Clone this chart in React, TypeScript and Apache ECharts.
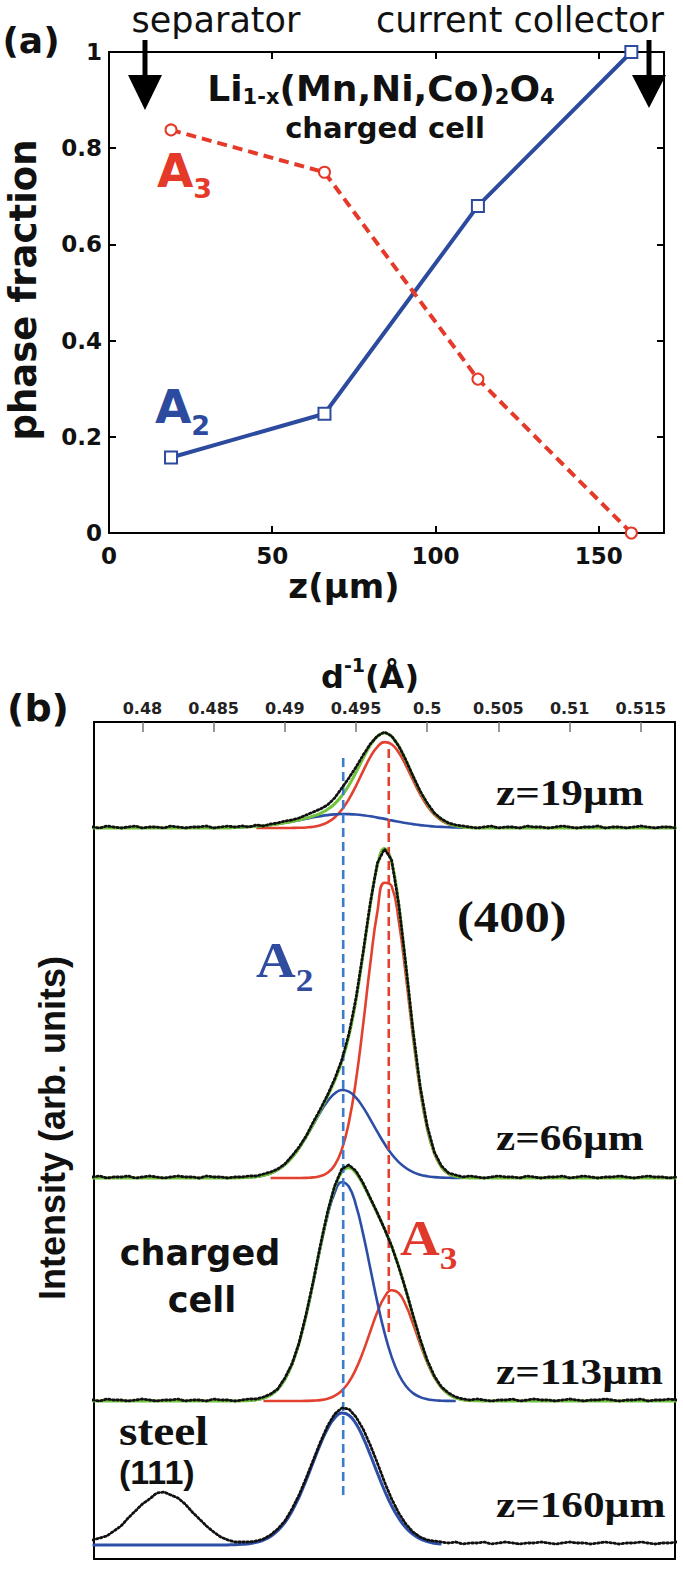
import React, { useEffect, useRef } from "react";
import * as echarts from "echarts";

// ---------- panel (a): phase fraction vs depth ----------
const depthZ = [19, 66, 113, 160];
const fractionA2 = [0.157, 0.248, 0.68, 1.0];
const fractionA3 = [0.838, 0.75, 0.32, 0.0];

// ---------- panel (b): diffraction scans (d^-1 grid) ----------
const scanStart = 0.4765;
const scanStep = 0.0005;
const dTicks = [0.48, 0.485, 0.49, 0.495, 0.5, 0.505, 0.51, 0.515];

const scanZ19 = [
  1, 0, 2, 1, 0, 1, 2, 0, 1, 1, 0, 2, 1, 0, 1, 1, 2, 0, 1, 2,
  1, 2, 1, 3, 2, 4, 5, 7, 8, 10, 13, 16, 19, 23, 30, 40, 50, 61, 73, 84, 92, 96, 92, 82, 68, 52, 37, 25, 15, 9, 5, 3, 2,
  1, 0, 1, 2, 0, 1, 1, 0, 2, 1, 1, 0, 1, 2, 1, 0, 1, 1, 2, 0, 1, 1, 0, 1, 2, 1, 0, 1, 1, 0,
];
const scanZ66 = [
  1, 2, 0, 1, 1, 2, 0, 1, 2, 1, 0, 1, 2, 1, 1, 0, 2, 1, 1, 0, 1,
  1, 2, 2, 4, 6, 9, 14, 22, 31, 42, 56, 69, 83, 99, 118, 144, 180, 226, 275, 315, 329, 318, 274, 213, 148, 92, 52, 26, 12, 5, 3, 1,
  2, 1, 0, 1, 2, 1, 1, 0, 2, 1, 0, 1, 1, 2, 0, 1, 2, 1, 0, 1, 1, 2, 1, 0, 1, 2, 1, 1, 0, 1,
];
const scanZ113 = [
  1, 0, 2, 1, 1, 0, 1, 2, 1, 0, 1, 1, 2, 0, 1, 1, 0, 2, 1, 1, 0,
  1, 2, 2, 4, 7, 12, 23, 37, 58, 87, 120, 156, 189, 215, 232, 236, 230, 218, 203, 188, 172, 155, 134, 111, 86, 62, 41, 25, 14, 8, 4, 2, 1,
  2, 1, 0, 1, 1, 2, 0, 1, 2, 1, 1, 0, 1, 2, 1, 0, 1, 1, 2, 1, 0, 1, 1, 2, 0, 1, 1, 2, 1,
];
const scanZ160 = [
  5, 7, 9, 14, 19, 27, 34, 41, 46, 52, 53, 50, 47, 41, 33, 26, 19, 13, 8, 5,
  3, 3, 3, 4, 6, 10, 16, 24, 36, 50, 67, 85, 103, 119, 131, 137, 136, 128, 116, 100,
  82, 63, 46, 32, 21, 13, 8, 5, 4, 3,
  2, 3, 1, 2, 2, 3, 1, 2, 3, 2, 1, 2, 2, 3, 2, 1, 2, 3, 2, 2, 1, 2, 3, 2, 1, 2, 2, 3, 2, 1, 2, 2, 3,
];

// fitted components (A3 = red, A2 = blue), each starting at the given d^-1
const fitA3z19Start = 0.488;
const fitA3z19 = [0, 0, 0, 0, 0.03, 0.08, 0.21, 0.55, 1.29, 2.83, 5.7, 10.6, 18.2, 28.9, 42.2, 56.9, 70.8, 81.2, 85.9, 83.8, 75.4, 62.7, 48.0, 33.9, 22.1, 13.3, 7.4, 3.8, 1.8, 0.8, 0.3];
const fitA2z19Start = 0.4865;
const fitA2z19 = [0.5, 0.8, 1.2, 1.7, 2.3, 3.1, 4.1, 5.3, 6.5, 7.9, 9.3, 10.7, 11.9, 12.9, 13.6, 14.0, 13.9, 13.5, 12.7, 11.7, 10.4, 9.1, 7.6, 6.3, 5.0, 3.9, 2.9, 2.2, 1.5, 1.1, 0.7, 0.5, 0.3];
const fitA3z66Start = 0.489;
const fitA3z66 = [0, 0, 0, 0.01, 0.04, 0.17, 0.6, 1.9, 5.2, 12.8, 28.3, 55.8, 97.9, 153.4, 214.0, 266.3, 295.3, 291.9, 257.2, 202.1, 141.5, 88.3, 49.2, 24.4, 10.8, 4.2, 1.5, 0.5, 0.1];
const fitA2z66Start = 0.487;
const fitA2z66 = [0.3, 0.7, 1.3, 2.6, 4.7, 8.2, 13.3, 20.5, 29.9, 41.2, 53.6, 66.0, 76.8, 84.5, 88.0, 86.4, 80.3, 70.6, 58.7, 46.1, 34.2, 24.0, 15.9, 10.0, 5.9, 3.3, 1.8, 0.9, 0.4, 0.2, 0.1, 0];
const fitA3z113Start = 0.4885;
const fitA3z113 = [0, 0, 0, 0, 0.01, 0.04, 0.12, 0.35, 0.9, 2.3, 5.1, 10.3, 19.0, 32.1, 49.4, 69.4, 88.9, 103.9, 110.8, 107.8, 95.7, 77.4, 57.2, 38.5, 23.7, 13.3, 6.8, 3.2, 1.3, 0.5, 0.2, 0.1];
const fitA2z113Start = 0.487;
const fitA2z113 = [0.2, 0.5, 1.3, 2.8, 6.0, 11.7, 21.4, 36.4, 57.9, 85.9, 118.9, 153.6, 185.2, 208.3, 218.7, 214.2, 195.7, 166.9, 132.8, 98.6, 68.3, 44.2, 26.6, 15.0, 7.9, 3.9, 1.8, 0.8, 0.3, 0.1, 0];
const fitA2z160Start = 0.4765;
const fitA2z160 = [
  0, 0, 0, 0, 0, 0, 0, 0, 0, 0, 0, 0, 0, 0, 0, 0, 0, 0, 0,
  0.1, 0.3, 0.7, 1.3, 2.6, 4.9, 8.6, 14.3, 22.5, 33.8, 48.0, 64.8, 83.0, 100.8, 116.2, 127.1, 131.9, 129.8, 121.2, 107.4, 90.3, 72.0, 54.5, 39.1, 26.7, 17.2, 10.6, 6.1, 3.4, 1.8, 0.9,
];

// peak positions marked by dashed lines, and their vertical extent
const peakA2 = 0.4941;
const peakA3 = 0.4973;
const peakA2Span = [64, 804];
const peakA3Span = [227, 814];

// vertical offsets of the stacked scans (panel b value units)
const stackOffsets = [731, 381, 158, 14];

const BLUE = "#2c4b9e";
const RED = "#e5392a";
const FIT_RED = "#e2412f";
const FIT_BLUE = "#2d4ea6";
const FIT_GREEN = "#72c43c";
const DASH_BLUE = "#3d7ccc";

const DV = "DejaVu Sans";
const LS = "Liberation Sans";
const SERIF = "Liberation Serif";

let measureCtx: CanvasRenderingContext2D | null = null;
function textW(t: string, size: number, family: string, weight: string) {
  if (!measureCtx) measureCtx = document.createElement("canvas").getContext("2d");
  if (!measureCtx) return t.length * size * 0.6;
  measureCtx.font = `${weight} ${size}px "${family}"`;
  return measureCtx.measureText(t).width;
}

type Piece = { t: string; size: number; dy?: number };
function row(
  pieces: Piece[],
  x: number,
  y: number,
  o: { align?: "left" | "center"; family: string; weight: string; color: string; scaleX?: number }
) {
  const ws = pieces.map((p) => textW(p.t, p.size, o.family, o.weight));
  const total = ws.reduce((a, b) => a + b, 0);
  let cx = o.align === "center" ? -total / 2 : 0;
  const children = pieces.map((p, i) => {
    const el = {
      type: "text",
      x: cx,
      y: p.dy || 0,
      style: {
        text: p.t,
        fill: o.color,
        fontSize: p.size,
        fontFamily: o.family,
        fontWeight: o.weight,
        align: "left",
        verticalAlign: "middle",
      },
    };
    cx += ws[i];
    return el;
  });
  return { type: "group", x, y, scaleX: o.scaleX ?? 1, children };
}

const rd = (v: number) => Math.round(v * 10000) / 10000;

function fitPts(vals: number[], start: number, off: number) {
  return vals.map((v, k) => [rd(start + k * scanStep), off + v]);
}
function scanPts(vals: number[], off: number) {
  return vals.map((v, i) => [rd(scanStart + i * scanStep), off + v]);
}
function sumPts(a: number[], aStart: number, b: number[], bStart: number, off: number) {
  return scanZ19.map((_, i) => {
    const d = scanStart + i * scanStep;
    const ia = Math.round((d - aStart) / scanStep);
    const ib = Math.round((d - bStart) / scanStep);
    const va = ia >= 0 && ia < a.length ? a[ia] : 0;
    const vb = ib >= 0 && ib < b.length ? b[ib] : 0;
    return [rd(d), off + va + vb];
  });
}

export default function App() {
  const ref = useRef<HTMLDivElement>(null);

  useEffect(() => {
    if (!ref.current) return;
    const chart = echarts.init(ref.current, undefined, { renderer: "svg" });

    const axisBlack = { show: true, onZero: false, lineStyle: { color: "#000", width: 2 } };
    const tickA = { show: true, inside: true, length: 7, lineStyle: { color: "#000", width: 2 } };
    const labelA = { color: "#111", fontFamily: DV, fontWeight: "bold", fontSize: 23 };

    const fitLine = (data: any[], color: string, z: number, width = 2.6) => ({
      type: "line",
      xAxisIndex: 2,
      yAxisIndex: 2,
      data,
      smooth: true,
      symbol: "none",
      z,
      lineStyle: { color, width },
    });
    const scanLine = (data: any[]) => ({
      type: "line",
      xAxisIndex: 2,
      yAxisIndex: 2,
      data,
      symbol: "none",
      z: 6,
      lineStyle: { color: "#111", width: 2.8, type: [1.5, 2.6], cap: "round" },
    });
    const dashLine = (d: number, span: number[], color: string) => ({
      type: "line",
      xAxisIndex: 2,
      yAxisIndex: 2,
      data: [
        [d, span[0]],
        [d, span[1]],
      ],
      symbol: "none",
      z: 5,
      lineStyle: { color, width: 2.6, type: [9, 5] },
    });

    const [o19, o66, o113, o160] = stackOffsets;

    const series: any[] = [
      // panel (a)
      {
        type: "line",
        xAxisIndex: 0,
        yAxisIndex: 0,
        data: depthZ.map((z, i) => [z, fractionA2[i]]),
        symbol: "rect",
        symbolSize: 12,
        showAllSymbol: true,
        lineStyle: { color: BLUE, width: 4 },
        itemStyle: { color: "#fff", borderColor: BLUE, borderWidth: 2 },
        z: 3,
      },
      {
        type: "line",
        xAxisIndex: 0,
        yAxisIndex: 0,
        data: depthZ.map((z, i) => [z, fractionA3[i]]),
        symbol: "circle",
        symbolSize: 11,
        showAllSymbol: true,
        lineStyle: { color: RED, width: 4, type: [10, 6] },
        itemStyle: { color: "#fff", borderColor: RED, borderWidth: 2 },
        z: 3,
      },
      // panel (b) fits
      fitLine(fitPts(fitA3z19, fitA3z19Start, o19), FIT_RED, 2),
      fitLine(fitPts(fitA2z19, fitA2z19Start, o19), FIT_BLUE, 2),
      fitLine(sumPts(fitA3z19, fitA3z19Start, fitA2z19, fitA2z19Start, o19), FIT_GREEN, 3, 3),
      fitLine(fitPts(fitA3z66, fitA3z66Start, o66), FIT_RED, 2),
      fitLine(fitPts(fitA2z66, fitA2z66Start, o66), FIT_BLUE, 2),
      fitLine(sumPts(fitA3z66, fitA3z66Start, fitA2z66, fitA2z66Start, o66), FIT_GREEN, 3, 3),
      fitLine(fitPts(fitA3z113, fitA3z113Start, o113), FIT_RED, 2),
      fitLine(fitPts(fitA2z113, fitA2z113Start, o113), FIT_BLUE, 2),
      fitLine(sumPts(fitA3z113, fitA3z113Start, fitA2z113, fitA2z113Start, o113), FIT_GREEN, 3, 3),
      fitLine(fitPts(fitA2z160, fitA2z160Start, o160), FIT_BLUE, 3, 3),
      dashLine(peakA2, peakA2Span, DASH_BLUE),
      dashLine(peakA3, peakA3Span, FIT_RED),
      scanLine(scanPts(scanZ19, o19)),
      scanLine(scanPts(scanZ66, o66)),
      scanLine(scanPts(scanZ113, o113)),
      scanLine(scanPts(scanZ160, o160)),
    ];

    const black = "#111";
    const graphic: any[] = [
      // panel (a) texts
      row([{ t: "(a)", size: 36 }], 31, 40, { align: "center", family: DV, weight: "bold", color: black }),
      row([{ t: "separator", size: 35 }], 216, 20, { align: "center", family: DV, weight: "normal", color: black }),
      row([{ t: "current collector", size: 35 }], 520, 20, { align: "center", family: DV, weight: "normal", color: black }),
      row(
        [
          { t: "Li", size: 36 },
          { t: "1-x", size: 21, dy: 9 },
          { t: "(Mn,Ni,Co)", size: 36 },
          { t: "2", size: 21, dy: 9 },
          { t: "O", size: 36 },
          { t: "4", size: 21, dy: 9 },
        ],
        381,
        88,
        { align: "center", family: DV, weight: "bold", color: black }
      ),
      row([{ t: "charged cell", size: 29 }], 385, 128, { align: "center", family: DV, weight: "bold", color: black }),
      row(
        [
          { t: "A", size: 47 },
          { t: "3", size: 27, dy: 18 },
        ],
        157,
        170,
        { family: DV, weight: "bold", color: RED }
      ),
      row(
        [
          { t: "A", size: 47 },
          { t: "2", size: 27, dy: 19 },
        ],
        155,
        406,
        { family: DV, weight: "bold", color: BLUE }
      ),
      {
        type: "text",
        x: 23,
        y: 290,
        rotation: Math.PI / 2,
        style: { text: "phase fraction", fill: black, fontSize: 37, fontFamily: DV, fontWeight: "bold", align: "center", verticalAlign: "middle" },
      },
      row([{ t: "z(µm)", size: 34 }], 344, 586, { align: "center", family: DV, weight: "bold", color: black }),
      // arrows
      { type: "rect", shape: { x: 142.5, y: 40, width: 5, height: 37 }, style: { fill: "#000" } },
      { type: "polygon", shape: { points: [[128, 75], [162, 75], [145, 110]] }, style: { fill: "#000" } },
      { type: "rect", shape: { x: 646.5, y: 40, width: 5, height: 37 }, style: { fill: "#000" } },
      { type: "polygon", shape: { points: [[632, 75], [666, 75], [649, 108]] }, style: { fill: "#000" } },
      // panel (b) texts
      row([{ t: "(b)", size: 38 }], 38, 708, { align: "center", family: DV, weight: "bold", color: black }),
      row(
        [
          { t: "d", size: 32 },
          { t: "-1", size: 19, dy: -12 },
          { t: "(Å)", size: 32 },
        ],
        370,
        677,
        { align: "center", family: DV, weight: "bold", color: black }
      ),
      {
        type: "text",
        x: 52,
        y: 1128,
        rotation: Math.PI / 2,
        style: { text: "Intensity (arb. units)", fill: black, fontSize: 36, fontFamily: LS, fontWeight: "bold", align: "center", verticalAlign: "middle" },
      },
      row([{ t: "z=19µm", size: 36 }], 496, 793, { family: SERIF, weight: "bold", color: black, scaleX: 1.2 }),
      row([{ t: "z=66µm", size: 36 }], 496, 1138, { family: SERIF, weight: "bold", color: black, scaleX: 1.2 }),
      row([{ t: "z=113µm", size: 36 }], 496, 1372, { family: SERIF, weight: "bold", color: black, scaleX: 1.2 }),
      row([{ t: "z=160µm", size: 36 }], 496, 1505, { family: SERIF, weight: "bold", color: black, scaleX: 1.2 }),
      row([{ t: "(400)", size: 44 }], 457, 917, { family: SERIF, weight: "bold", color: black, scaleX: 1.15 }),
      row(
        [
          { t: "A", size: 50 },
          { t: "2", size: 32, dy: 20 },
        ],
        256,
        960,
        { family: SERIF, weight: "bold", color: "#2f4c9f", scaleX: 1.1 }
      ),
      row(
        [
          { t: "A", size: 50 },
          { t: "3", size: 32, dy: 20 },
        ],
        400,
        1238,
        { family: SERIF, weight: "bold", color: "#e0392b", scaleX: 1.1 }
      ),
      row([{ t: "charged", size: 35 }], 200, 1253, { align: "center", family: DV, weight: "bold", color: black }),
      row([{ t: "cell", size: 35 }], 202, 1300, { align: "center", family: DV, weight: "bold", color: black }),
      row([{ t: "steel", size: 43 }], 119, 1431, { family: SERIF, weight: "bold", color: black, scaleX: 1.1 }),
      row([{ t: "(111)", size: 34 }], 119, 1472, { family: LS, weight: "bold", color: black }),
    ];

    chart.setOption({
      animation: false,
      backgroundColor: "#fff",
      grid: [
        { left: 109, top: 52, width: 555, height: 481 },
        { left: 94, top: 722, width: 581, height: 837 },
      ],
      xAxis: [
        {
          type: "value",
          gridIndex: 0,
          position: "bottom",
          min: 0,
          max: 170,
          interval: 50,
          axisLine: axisBlack,
          axisTick: tickA,
          axisLabel: { ...labelA, margin: 11, showMaxLabel: false },
          splitLine: { show: false },
        },
        {
          type: "value",
          gridIndex: 0,
          position: "top",
          min: 0,
          max: 170,
          interval: 50,
          axisLine: axisBlack,
          axisTick: tickA,
          axisLabel: { show: false },
          splitLine: { show: false },
        },
        {
          type: "value",
          gridIndex: 1,
          position: "top",
          min: 0.4766,
          max: 0.5174,
          axisLine: axisBlack,
          axisTick: { show: true, inside: true, length: 10, customValues: dTicks, lineStyle: { color: "#777", width: 1.5 } },
          axisLabel: {
            customValues: dTicks,
            margin: 6,
            color: "#222",
            fontFamily: DV,
            fontWeight: "bold",
            fontSize: 16,
            formatter: (v: number) => String(+(+v).toFixed(3)),
          },
          splitLine: { show: false },
        },
        {
          type: "value",
          gridIndex: 1,
          position: "bottom",
          min: 0.4766,
          max: 0.5174,
          axisLine: axisBlack,
          axisTick: { show: false },
          axisLabel: { show: false },
          splitLine: { show: false },
        },
      ],
      yAxis: [
        {
          type: "value",
          gridIndex: 0,
          position: "left",
          min: 0,
          max: 1,
          interval: 0.2,
          axisLine: axisBlack,
          axisTick: tickA,
          axisLabel: { ...labelA, margin: 7 },
          splitLine: { show: false },
        },
        {
          type: "value",
          gridIndex: 0,
          position: "right",
          min: 0,
          max: 1,
          interval: 0.2,
          axisLine: axisBlack,
          axisTick: tickA,
          axisLabel: { show: false },
          splitLine: { show: false },
        },
        {
          type: "value",
          gridIndex: 1,
          position: "left",
          min: 0,
          max: 837,
          axisLine: axisBlack,
          axisTick: { show: false },
          axisLabel: { show: false },
          splitLine: { show: false },
        },
        {
          type: "value",
          gridIndex: 1,
          position: "right",
          min: 0,
          max: 837,
          axisLine: axisBlack,
          axisTick: { show: false },
          axisLabel: { show: false },
          splitLine: { show: false },
        },
      ],
      series,
      graphic,
    });

    return () => chart.dispose();
  }, []);

  return (
    <div
      ref={ref}
      style={{ position: "absolute", left: 0, top: 0, width: 683, height: 1580, background: "#fff" }}
    />
  );
}
